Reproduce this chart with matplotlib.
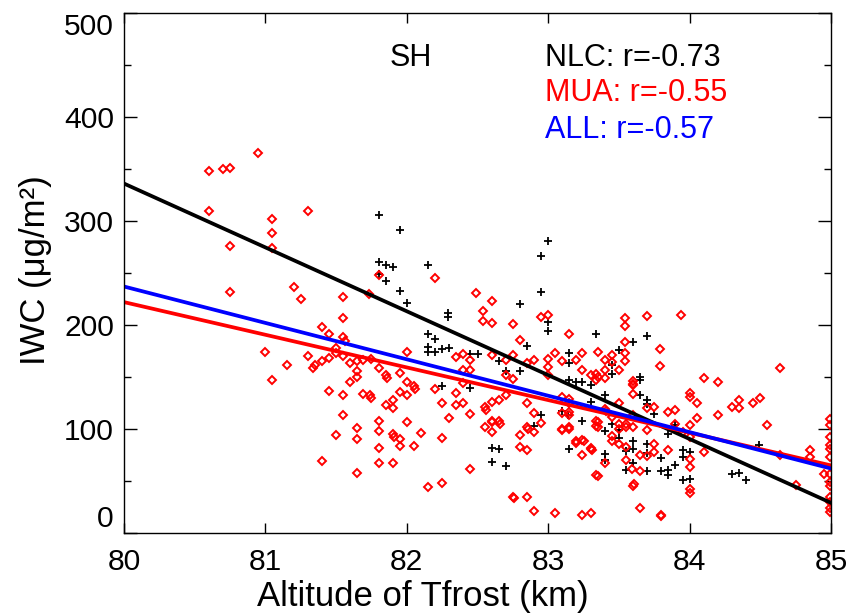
import matplotlib
matplotlib.use('Agg')
import matplotlib.pyplot as plt
from matplotlib.ticker import MultipleLocator

plt.rcParams['font.family'] = ['Liberation Sans', 'DejaVu Sans']

# ---------------- data ----------------
# NLC points (black crosses)
nlc_x = [81.80, 81.95, 81.80, 81.85, 81.90, 81.80, 81.85, 81.95, 82.00, 82.15,
         82.29, 82.29, 82.15, 82.20, 82.95, 83.00, 82.95, 82.80, 83.00, 83.00,
         83.34, 82.15, 82.15, 82.20, 82.25, 82.30, 82.45, 82.50, 82.65, 82.85,
         82.70, 82.80, 82.25, 82.45, 83.15, 83.15, 83.15, 83.20, 83.24, 83.30,
         83.30, 82.95, 82.90, 83.10, 83.14, 83.24, 82.60, 82.65, 82.60, 82.70,
         83.15, 83.40, 83.45, 83.40, 83.65, 83.70, 83.70, 83.75, 83.50, 83.60,
         83.60, 83.70, 83.40, 83.40, 83.55, 83.60, 83.55, 83.70, 83.80, 83.80,
         83.85, 83.85, 83.90, 83.95, 83.95, 83.95, 84.00, 84.00, 83.85, 83.50,
         83.60, 83.70, 83.50, 83.45, 83.45, 83.65, 83.65, 83.90, 84.49, 84.30,
         84.35, 84.40, 83.70]
nlc_y = [306, 291, 261, 258, 256, 249, 242, 233, 221, 258,
         212, 208, 191, 187, 266, 281, 232, 220, 203, 194,
         191, 179, 174, 174, 177, 178, 172, 172, 165, 180,
         156, 156, 141, 139, 173, 163, 147, 145, 145, 142,
         126, 113, 103, 117, 113, 108, 82, 81, 68, 64,
         81, 98, 105, 133, 133, 128, 124, 114, 91, 88,
         81, 86, 76, 70, 79, 67, 61, 60, 72, 60,
         61, 56, 65, 80, 73, 51, 78, 52, 95, 99,
         184, 189, 176, 162, 153, 150, 147, 104, 85, 57,
         58, 51, 77]

# MUA points (red diamonds)
mua_x = [80.60, 80.70, 80.75, 80.95, 80.60, 81.05, 81.30, 81.05, 80.75, 81.05,
         80.75, 81.20, 81.25, 81.55, 81.55, 81.40, 81.73,
         81.45, 81.55, 81.56, 81.00, 81.30, 81.50, 81.50, 81.55, 81.45, 81.40,
         81.35, 81.34, 81.15, 81.60, 81.65, 81.69, 81.65, 81.65, 81.60, 81.05,
         81.45, 81.55, 81.69, 81.74, 81.55, 81.65, 81.50, 81.65, 81.40, 81.65,
         81.80, 82.20, 82.49, 82.60, 82.54, 82.54, 82.60, 82.75, 82.95, 83.00,
         83.15, 82.80,
         82.00, 81.75, 81.80, 81.95, 81.85, 81.86, 82.00, 82.05, 82.06, 81.75,
         81.95, 82.00, 81.90, 81.85, 81.90, 81.80, 82.00, 81.80, 81.90, 81.91,
         81.95, 82.10, 81.95, 81.80, 82.05, 81.80, 81.90, 82.25, 82.15, 82.25,
         82.20, 82.25, 82.30, 82.35, 82.40, 82.45, 82.40, 82.45, 82.40, 82.35,
         82.35, 82.40, 82.45, 82.55, 82.56, 82.60, 82.65, 82.70, 82.60, 82.65,
         82.66, 82.55, 82.60, 82.60, 82.70, 82.75, 82.70, 82.75, 82.85, 82.90,
         83.00, 83.00, 83.05, 83.10, 83.20, 83.24, 83.24, 83.30, 83.34, 83.35,
         83.00, 82.85, 82.90, 82.95, 82.85, 82.86, 82.90, 82.80, 82.80, 82.85,
         83.15, 83.15, 83.10, 83.15, 83.20, 83.24, 83.30, 83.31, 83.24, 83.34,
         83.34, 83.34, 82.45, 82.75, 82.76, 82.85, 82.90, 83.05, 83.24, 83.30,
         82.60,
         83.10, 83.15, 83.10, 83.15, 83.10, 83.15, 83.20, 83.25, 83.30, 83.35,
         83.35, 83.35, 83.40, 83.45, 83.45, 83.50, 83.50, 83.55, 83.55, 83.59,
         83.60, 83.61, 83.65, 83.65, 83.65, 83.70, 83.75, 83.75, 83.80, 83.40,
         83.41, 83.45, 83.50, 83.55, 83.55, 83.60, 83.60, 83.50, 83.60, 83.60,
         83.60, 83.70, 83.75, 83.70, 83.85, 83.90, 83.85, 83.90, 83.95, 84.00,
         84.00, 84.00, 84.05, 84.05, 84.00, 84.00, 84.00, 84.00, 84.10,
         83.54, 83.54, 83.70, 83.94, 83.35, 83.54, 83.54, 83.54, 83.79, 83.79,
         83.40, 83.45, 83.45, 83.50, 83.34, 83.40, 83.40, 83.60, 84.10, 84.20,
         84.64, 84.30, 84.35, 84.35, 84.45, 84.50, 84.20, 84.55, 84.00, 84.64,
         84.85, 84.85, 84.75, 84.95, 83.80,
         84.99, 84.99, 84.99, 84.99, 84.99, 84.99, 84.99, 84.99, 84.99, 84.99,
         84.99, 84.99, 84.99]
mua_y = [348, 350, 351, 365, 310, 302, 310, 288, 276, 274,
         232, 237, 225, 227, 207, 198, 230,
         191, 188, 185, 174, 170, 178, 173, 170, 168, 165,
         162, 159, 162, 163, 165, 166, 156, 150, 145, 147,
         137, 133, 134, 133, 113, 101, 94, 90, 69, 58,
         248, 245, 231, 223, 213, 204, 202, 201, 208, 210,
         191, 186,
         174, 167, 159, 154, 152, 149, 145, 141, 138, 130,
         136, 133, 128, 123, 120, 108, 107, 98, 95, 92,
         90, 96, 84, 82, 84, 67, 67, 91, 44, 48,
         138, 125, 111, 169, 172, 166, 157, 157, 144, 135,
         123, 125, 114, 121, 118, 126, 128, 133, 108, 108,
         105, 102, 97, 171, 166, 171, 152, 148, 163, 166,
         167, 160, 173, 165, 166, 173, 157, 152, 153, 150,
         152, 125, 115, 106, 102, 100, 97, 94, 83, 80,
         129, 113, 100, 100, 87, 89, 82, 80, 75, 56,
         108, 103, 62, 35, 34, 35, 21, 19, 17, 19,
         107,
         131, 125, 115, 116, 99, 102, 88, 88, 81, 102,
         107, 55, 67, 93, 88, 100, 86, 83, 70, 62,
         45, 47, 75, 60, 24, 74, 78, 86, 17, 119,
         117, 112, 105, 105, 102, 102, 113, 125, 134, 142,
         146, 120, 121, 99, 80, 118, 116, 105, 97, 92,
         135, 131, 125, 111, 71, 63, 42, 38, 78,
         207, 199, 209, 210, 174, 184, 173, 165, 177, 161,
         166, 171, 164, 157, 147, 157, 149, 143, 149, 145,
         159, 121, 128, 120, 125, 130, 113, 104, 104, 75,
         80, 73, 46, 57, 16,
         110, 104, 92, 85, 81, 73, 57, 49, 45, 35,
         30, 24, 20]

# linear fits: values at x = 80 and x = 85
fit_x = [80, 85]
nlc_fit = [336, 29]
mua_fit = [222, 65]
all_fit = [237, 62]

# ---------------- plot ----------------
W, H = 852, 614
fig = plt.figure(figsize=(W / 100, H / 100), dpi=100)
L, R, T, B = 124, 831, 13, 533
ax = fig.add_axes([L / W, 1 - B / H, (R - L) / W, (B - T) / H])

ax.plot(nlc_x, nlc_y, linestyle='none', marker='+', color='black',
        markersize=6.3, markeredgewidth=1.3)
ax.plot(mua_x, mua_y, linestyle='none', marker='D', color='red',
        markerfacecolor='none', markersize=4.0, markeredgewidth=1.4)

ax.plot(fit_x, nlc_fit, color='black', linewidth=2.7)
ax.plot(fit_x, mua_fit, color='red', linewidth=2.7)
ax.plot(fit_x, all_fit, color='blue', linewidth=2.7)

ax.set_xlim(80, 85)
ax.set_ylim(0, 500)
ax.set_xticks([80, 81, 82, 83, 84, 85])
ax.set_yticks([0, 100, 200, 300, 400, 500])
ax.yaxis.set_minor_locator(MultipleLocator(50))

for sp in ax.spines.values():
    sp.set_linewidth(1.0)

ax.tick_params(axis='x', which='major', direction='in', top=True, bottom=True,
               length=7.2, width=1.0, labelsize=21.6, pad=10.5)
ax.tick_params(axis='y', which='major', direction='in', left=True, right=True,
               length=9.4, width=1.0, labelsize=21.6, pad=7.2)
ax.tick_params(axis='y', which='minor', direction='in', left=True, right=True,
               length=5.0, width=1.0)

yt = ax.yaxis.get_major_ticks()
yt[0].label1.set_verticalalignment('bottom')
yt[-1].label1.set_verticalalignment('top')

def ax_pt(px, py):
    return ((px - L) / (R - L), (B - py) / (B - T))

fs = 22
x0, y0 = ax_pt(390, 66)
ax.text(x0, y0, 'SH', transform=ax.transAxes, fontsize=fs, va='baseline')
x0, y0 = ax_pt(545, 66)
ax.text(x0, y0, 'NLC: r=-0.73', transform=ax.transAxes, fontsize=fs,
        va='baseline', color='black')
x0, y0 = ax_pt(545, 101)
ax.text(x0, y0, 'MUA: r=-0.55', transform=ax.transAxes, fontsize=fs,
        va='baseline', color='red')
x0, y0 = ax_pt(545, 138)
ax.text(x0, y0, 'ALL: r=-0.57', transform=ax.transAxes, fontsize=fs,
        va='baseline', color='blue')

x0, y0 = ax_pt(423, 606)
ax.text(x0, y0, 'Altitude of Tfrost (km)', transform=ax.transAxes,
        fontsize=25, ha='center', va='baseline')
x0, y0 = ax_pt(36, 270)
ax.text(x0, y0, 'IWC (\u03bcg/m\u00b2)', transform=ax.transAxes,
        fontsize=25, ha='center', va='center', rotation=90)

fig.savefig('out.png', dpi=100)
